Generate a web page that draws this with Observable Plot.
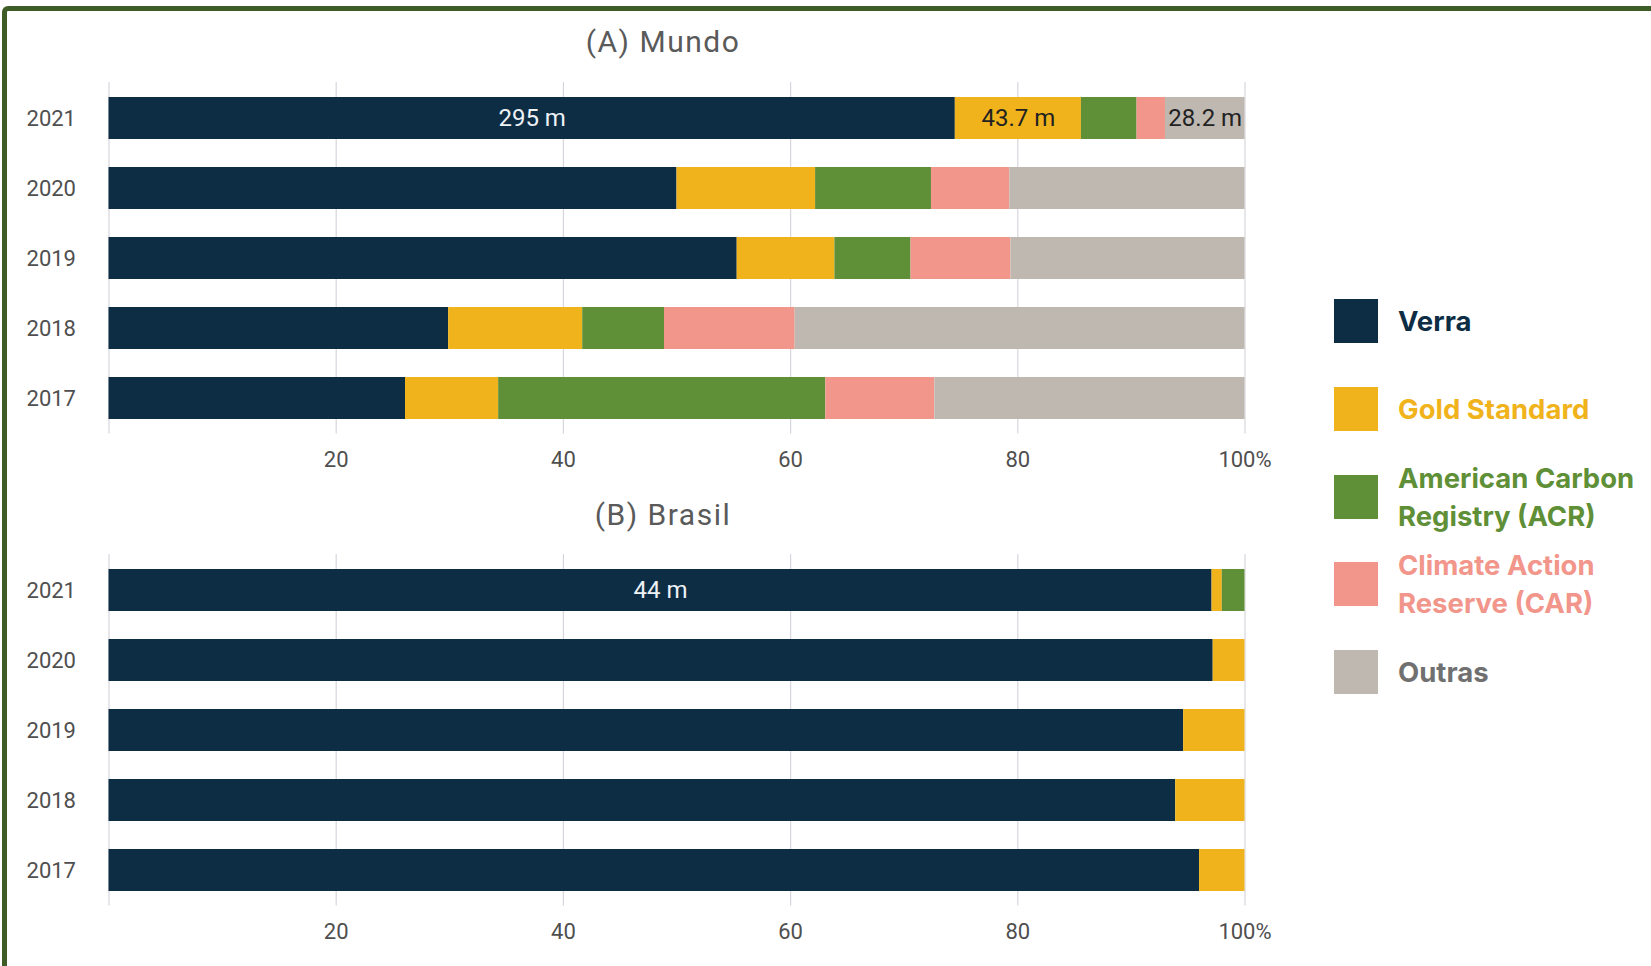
<!DOCTYPE html>
<html>
<head>
<meta charset="utf-8">
<script src="https://cdn.jsdelivr.net/npm/d3@7"></script>
<script src="https://cdn.jsdelivr.net/npm/@observablehq/plot@0.6"></script>
<style>
  html, body { margin: 0; padding: 0; background: #fff; overflow: hidden; }
  #root { position: relative; width: 1651px; height: 966px; overflow: hidden; background: #fff; }
  .panel { position: absolute; left: 0; }
  .title { position: absolute; width: 400px; text-align: center; font-family: Roboto, sans-serif;
           font-size: 30px; letter-spacing: 1.5px; color: #5a5a5a; line-height: 30px; }
  #frame { position: absolute; left: 2px; top: 6px; width: 2400px; height: 1400px;
           border-top: 5px solid #3d5c26; border-left: 5px solid #3d5c26; border-top-left-radius: 6px;
           pointer-events: none; z-index: 10; box-sizing: border-box; }
  #legend { position: absolute; left: 1334px; top: 299px; font-family: Inter, sans-serif; font-weight: 700; font-size: 27.5px; }
  .item { position: absolute; left: 0; height: 44px; display: flex; align-items: center; white-space: normal; }
  .sw { width: 44px; height: 44px; flex: none; margin-right: 20px; }
  .lab { width: 255px; line-height: 38px; }
</style>
</head>
<body>
<div id="root">
  <div id="frame"></div>
</div>
<script>
// ---- data ----
const years = ["2021", "2020", "2019", "2018", "2017"];
const registries = ["Verra", "Gold Standard", "American Carbon Registry (ACR)", "Climate Action Reserve (CAR)", "Outras"];
const colors = ["#0d2d45", "#f0b31c", "#5f8f36", "#f2958a", "#bfb8b1"];
const legendTextColors = ["#0d2d45", "#f0b31c", "#5f8f36", "#f2958a", "#707070"];

// share (%) per year, order = years
const mundoVerra  = [74.5, 50.0, 55.3, 29.9, 26.1];
const mundoGold   = [11.1, 12.2,  8.6, 11.8,  8.2];
const mundoACR    = [ 4.9, 10.2,  6.7,  7.2, 28.8];
const mundoCAR    = [ 2.5,  6.9,  8.8, 11.5,  9.6];
const mundoOutras = [ 7.0, 20.7, 20.6, 39.6, 27.3];

const brasilVerra  = [97.1, 97.2, 94.6, 93.9, 96.0];
const brasilGold   = [ 0.9,  2.8,  5.4,  6.1,  4.0];
const brasilACR    = [ 2.0,  0,    0,    0,    0  ];
const brasilCAR    = [ 0,    0,    0,    0,    0  ];
const brasilOutras = [ 0,    0,    0,    0,    0  ];

// value labels (year, registry, text)
const mundoLabelYears = ["2021", "2021", "2021"];
const mundoLabelRegs  = ["Verra", "Gold Standard", "Outras"];
const mundoLabelTexts = ["295 m", "43.7 m", "28.2 m"];
const brasilLabelYears = ["2021"];
const brasilLabelRegs  = ["Verra"];
const brasilLabelTexts = ["44 m"];

const gridTicks = [0, 20, 40, 60, 80, 100];
const axisTicks = [20, 40, 60, 80, 100];

function buildRows(series, lYears, lRegs, lTexts) {
  const rows = [];
  years.forEach((yr, i) => {
    registries.forEach((reg, k) => {
      let label = null;
      lYears.forEach((ly, j) => { if (ly === yr && lRegs[j] === reg) label = lTexts[j]; });
      rows.push({year: yr, registry: reg, value: series[k][i], label});
    });
  });
  return rows;
}

function panel(rows) {
  return Plot.plot({
    width: 1300,
    height: 472,
    marginLeft: 108.5,
    marginRight: 55.5,
    marginTop: 82,
    marginBottom: 38.6,
    style: {fontFamily: "Roboto, sans-serif", fontSize: "22px", color: "#4f4f4f", background: "transparent"},
    x: {domain: [0, 100], ticks: axisTicks, tickSize: 0, tickPadding: 17,
        tickFormat: d => d === 100 ? "100%" : String(d), label: null},
    y: {domain: years, paddingInner: 0.4, paddingOuter: 0.21, tickSize: 0, tickPadding: 33, label: null},
    color: {domain: registries, range: colors},
    marks: [
      Plot.ruleX(gridTicks, {stroke: "#d6d6de", strokeWidth: 1.2}),
      Plot.barX(rows, {x: "value", y: "year", fill: "registry"}),
      Plot.text(rows, Plot.stackX({x: "value", y: "year", z: "registry",
        text: d => d.registry === "Verra" ? d.label : null,
        fill: "#eef2f5", fontSize: 24, fontFamily: "Roboto, sans-serif"})),
      Plot.text(rows, Plot.stackX({x: "value", y: "year", z: "registry",
        text: d => d.registry !== "Verra" ? d.label : null,
        fill: "#222", fontSize: 24, fontFamily: "Roboto, sans-serif"}))
    ]
  });
}

const root = document.getElementById("root");

const mundoRows = buildRows([mundoVerra, mundoGold, mundoACR, mundoCAR, mundoOutras],
                            mundoLabelYears, mundoLabelRegs, mundoLabelTexts);
const brasilRows = buildRows([brasilVerra, brasilGold, brasilACR, brasilCAR, brasilOutras],
                             brasilLabelYears, brasilLabelRegs, brasilLabelTexts);

const pA = panel(mundoRows);
pA.classList.add("panel"); pA.style.top = "0px";
root.appendChild(pA);
const pB = panel(brasilRows);
pB.classList.add("panel"); pB.style.top = "472px";
root.appendChild(pB);

const titles = [["(A) Mundo", 27], ["(B) Brasil", 500]];
titles.forEach(([t, top]) => {
  const d = document.createElement("div");
  d.className = "title";
  d.textContent = t;
  d.style.left = (663 - 200) + "px";
  d.style.top = top + "px";
  root.appendChild(d);
});

// legend
const lg = document.createElement("div");
lg.id = "legend";
registries.forEach((r, i) => {
  const it = document.createElement("div");
  it.className = "item";
  it.style.top = (i * 87.8) + "px";
  const sw = document.createElement("div");
  sw.className = "sw"; sw.style.background = colors[i];
  const lab = document.createElement("div");
  lab.className = "lab"; lab.style.color = legendTextColors[i];
  lab.textContent = r;
  it.appendChild(sw); it.appendChild(lab);
  lg.appendChild(it);
});
root.appendChild(lg);
</script>
</body>
</html>
